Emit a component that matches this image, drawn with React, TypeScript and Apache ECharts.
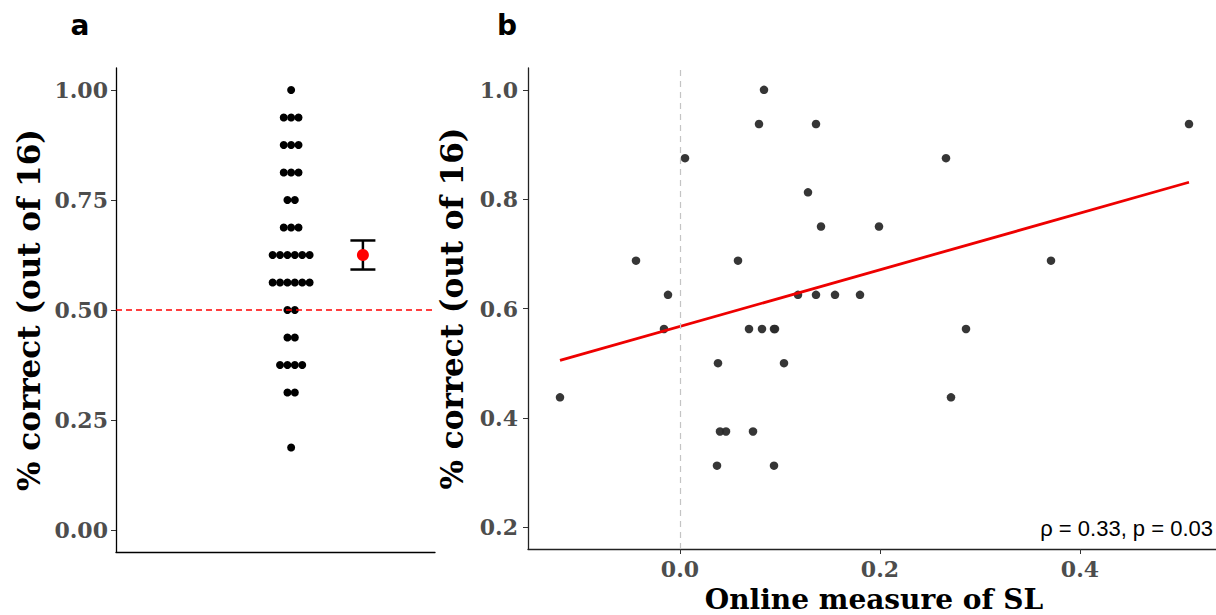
import React, { useEffect, useRef } from "react";
import * as echarts from "echarts";

// Panel a: proportion correct (k/16) and number of participants at each level
const dotValues = [1, 0.9375, 0.875, 0.8125, 0.75, 0.6875, 0.625, 0.5625, 0.5, 0.4375, 0.375, 0.3125, 0.1875];
const dotCounts = [1, 3, 3, 3, 2, 3, 6, 6, 2, 2, 4, 2, 1];
const chanceLevel = 0.5;

// Panel b: online SL measure vs proportion correct
const slX = [0.084, 0.079, 0.136, 0.509, 0.005, 0.266, 0.128, 0.141, 0.199, -0.044, 0.058, 0.371, -0.012, 0.118, 0.136, 0.155, 0.18, -0.016, 0.069, 0.082, 0.094, 0.095, 0.286, 0.038, 0.104, -0.12, 0.271, 0.04, 0.046, 0.073, 0.037, 0.094];
const slY = [1.0, 0.9375, 0.9375, 0.9375, 0.875, 0.875, 0.8125, 0.75, 0.75, 0.6875, 0.6875, 0.6875, 0.625, 0.625, 0.625, 0.625, 0.625, 0.5625, 0.5625, 0.5625, 0.5625, 0.5625, 0.5625, 0.5, 0.5, 0.4375, 0.4375, 0.375, 0.375, 0.375, 0.3125, 0.3125];
const fitX = [-0.12, 0.509];
const fitY = [0.505, 0.831];
const statText = "ρ = 0.33, p = 0.03";
const xTitleB = "Online measure of SL";

// Tick labels
const yTicksA = [0, 0.25, 0.5, 0.75, 1.0];
const yTicksB = [0.2, 0.4, 0.6, 0.8, 1.0];
const xTicksB = [0, 0.2, 0.4];

// layout constants (axis units of panel a's hidden x axis)
const DOT_X = 0.549;
const ERR_X = 0.774;
const DOT_SPACING = 7.4;

export default function App() {
  const ref = useRef<HTMLDivElement>(null);

  useEffect(() => {
    if (!ref.current) return;
    const chart = echarts.init(ref.current, null, { renderer: "svg" });

    // dots with horizontal stacking
    const dotData: any[] = [];
    let n = 0;
    let sum = 0;
    dotValues.forEach((v, i) => {
      const c = dotCounts[i];
      for (let k = 0; k < c; k++) {
        dotData.push({ value: [DOT_X, v], symbolOffset: [(k - (c - 1) / 2) * DOT_SPACING, 0] });
      }
      n += c;
      sum += v * c;
    });
    const mean = sum / n;
    let ss = 0;
    dotValues.forEach((v, i) => {
      ss += dotCounts[i] * (v - mean) * (v - mean);
    });
    const se = Math.sqrt(ss / (n - 1)) / Math.sqrt(n);

    const tickLabel = {
      fontFamily: "DejaVu Serif",
      fontWeight: "bold" as const,
      fontSize: 22,
      color: "#4d4d4d",
    };
    const nameStyle = {
      fontFamily: "DejaVu Serif",
      fontWeight: "bold" as const,
      fontSize: 31,
      color: "#000",
    };

    chart.setOption({
      animation: false,
      backgroundColor: "#fff",
      grid: [
        { left: 116, top: 68, width: 319, height: 484, outerBoundsMode: "none", containLabel: false },
        { left: 528, top: 68, width: 688, height: 481, outerBoundsMode: "none", containLabel: false },
      ],
      xAxis: [
        {
          gridIndex: 0,
          type: "value",
          min: 0,
          max: 1,
          axisLine: { show: true, onZero: false, lineStyle: { color: "#000", width: 1.3 } },
          axisTick: { show: false },
          axisLabel: { show: false },
          splitLine: { show: false },
        },
        {
          gridIndex: 1,
          type: "value",
          min: -0.152,
          max: 0.536,
          axisLine: { show: true, onZero: false, lineStyle: { color: "#222", width: 1.3 } },
          axisTick: { show: true, length: 5, lineStyle: { color: "#333" }, customValues: xTicksB },
          axisLabel: { ...tickLabel, margin: 9, lineHeight: 22, customValues: xTicksB, formatter: (v: number) => v.toFixed(1) },
          splitLine: { show: false },
        },
      ],
      yAxis: [
        {
          gridIndex: 0,
          type: "value",
          min: -0.05,
          max: 1.05,
          axisLine: { show: true, onZero: false, lineStyle: { color: "#000", width: 1.3 } },
          axisTick: { show: true, length: 5, lineStyle: { color: "#333" }, customValues: yTicksA },
          axisLabel: { ...tickLabel, margin: 8, customValues: yTicksA, formatter: (v: number) => v.toFixed(2) },
          splitLine: { show: false },
          name: "% correct (out of 16)",
          nameLocation: "middle",
          nameGap: 72,
          nameTextStyle: nameStyle,
        },
        {
          gridIndex: 1,
          type: "value",
          min: 0.16,
          max: 1.04,
          axisLine: { show: true, onZero: false, lineStyle: { color: "#222", width: 1.3 } },
          axisTick: { show: true, length: 5, lineStyle: { color: "#333" }, customValues: yTicksB },
          axisLabel: { ...tickLabel, margin: 10, customValues: yTicksB, formatter: (v: number) => v.toFixed(1) },
          splitLine: { show: false },
          name: "% correct (out of 16)",
          nameLocation: "middle",
          nameGap: 61,
          nameTextStyle: nameStyle,
        },
      ],
      series: [
        {
          type: "scatter",
          xAxisIndex: 0,
          yAxisIndex: 0,
          symbolSize: 8,
          itemStyle: { color: "#000", opacity: 1 },
          data: dotData,
          markLine: {
            silent: true,
            symbol: "none",
            label: { show: false },
            lineStyle: { color: "#ff0000", type: [6, 4], width: 1.5 },
            data: [{ yAxis: chanceLevel }],
          },
          z: 3,
        },
        {
          type: "custom",
          xAxisIndex: 0,
          yAxisIndex: 0,
          data: [[ERR_X, mean, mean - se, mean + se]],
          encode: { x: 0, y: [1, 2, 3] },
          renderItem: (params: any, api: any) => {
            const x = api.value(0);
            const lo = api.coord([x, api.value(2)]);
            const hi = api.coord([x, api.value(3)]);
            const hw = 12.5;
            const style = { stroke: "#000", lineWidth: 2.5 };
            return {
              type: "group",
              children: [
                { type: "line", shape: { x1: lo[0], y1: lo[1], x2: hi[0], y2: hi[1] }, style },
                { type: "line", shape: { x1: lo[0] - hw, y1: lo[1], x2: lo[0] + hw, y2: lo[1] }, style },
                { type: "line", shape: { x1: hi[0] - hw, y1: hi[1], x2: hi[0] + hw, y2: hi[1] }, style },
              ],
            };
          },
          z: 4,
        },
        {
          type: "scatter",
          xAxisIndex: 0,
          yAxisIndex: 0,
          symbolSize: 12,
          itemStyle: { color: "#ff0000", opacity: 1 },
          data: [[ERR_X, mean]],
          z: 5,
        },
        {
          type: "scatter",
          xAxisIndex: 1,
          yAxisIndex: 1,
          symbolSize: 8.5,
          itemStyle: { color: "#2b2b2b", opacity: 0.95 },
          data: slX.map((x, i) => [x, slY[i]]),
          markLine: {
            silent: true,
            symbol: "none",
            label: { show: false },
            lineStyle: { color: "#c4c4c4", type: [6, 5], width: 1.2 },
            data: [{ xAxis: 0 }],
          },
          z: 3,
        },
        {
          type: "line",
          xAxisIndex: 1,
          yAxisIndex: 1,
          showSymbol: false,
          symbol: "none",
          lineStyle: { color: "#ee0000", width: 2.8 },
          data: fitX.map((x, i) => [x, fitY[i]]),
          z: 4,
        },
      ],
      graphic: [
        {
          type: "text",
          x: 80,
          y: 25,
          style: { text: "a", font: "bold 28px 'DejaVu Sans'", fill: "#000", textAlign: "center", textVerticalAlign: "middle" },
        },
        {
          type: "text",
          x: 507,
          y: 25,
          style: { text: "b", font: "bold 28px 'DejaVu Sans'", fill: "#000", textAlign: "center", textVerticalAlign: "middle" },
        },
        {
          type: "text",
          x: 874,
          y: 599,
          style: { text: xTitleB, font: "bold 28px 'DejaVu Serif'", fill: "#000", textAlign: "center", textVerticalAlign: "middle" },
        },
        {
          type: "text",
          x: 1213,
          y: 528,
          style: { text: statText, font: "22px 'Liberation Sans'", fill: "#000", textAlign: "right", textVerticalAlign: "middle" },
        },
      ],
    });

    return () => chart.dispose();
  }, []);

  return <div ref={ref} style={{ position: "fixed", left: 0, top: 0, width: 1216, height: 615 }} />;
}
